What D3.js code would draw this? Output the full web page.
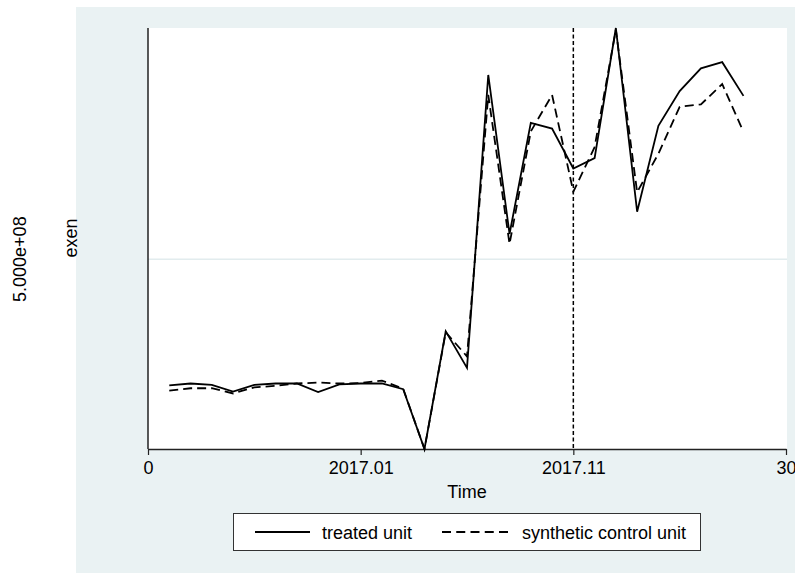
<!DOCTYPE html>
<html>
<head>
<meta charset="utf-8">
<script src="https://cdn.jsdelivr.net/npm/d3@7"></script>
<style>
  body { margin: 0; background: #fff; }
  svg { display: block; font-family: "Liberation Sans", Arial, sans-serif; }
</style>
</head>
<body>
<div id="chart"></div>
<script>
// values in units of 1e8
const time = [1, 2, 3, 4, 5, 6, 7, 8, 9, 10, 11, 12, 13, 14, 15, 16, 17, 18, 19, 20, 21, 22, 23, 24, 25, 26, 27, 28];
const treated = [2.34, 2.38, 2.35, 2.21, 2.35, 2.38, 2.38, 2.20, 2.36, 2.38, 2.38, 2.26, 1.00, 3.48, 2.71, 8.88, 5.53, 7.87, 7.75, 6.91, 7.13, 9.87, 6.00, 7.81, 8.54, 9.02, 9.15, 8.44];
const synthetic = [2.23, 2.28, 2.28, 2.17, 2.30, 2.33, 2.38, 2.40, 2.38, 2.39, 2.44, 2.27, 1.00, 3.46, 2.95, 8.46, 5.32, 7.69, 8.46, 6.42, 7.36, 9.83, 6.41, 7.22, 8.21, 8.26, 8.69, 7.68];
const xTicks = [0, 10, 20, 30];
const xTickLabels = ['0', '2017.01', '2017.11', '30'];
const yTicks = [5];
const yTickLabels = ['5.000e+08'];
const treatTime = 20;

const width = 795, height = 573;
const plot = { left: 148, right: 786, top: 28, bottom: 449 };

const svg = d3.select('#chart').append('svg')
  .attr('width', width)
  .attr('height', height);

svg.append('rect')
  .attr('x', 76).attr('y', 7)
  .attr('width', width - 76).attr('height', height - 7)
  .attr('fill', '#eaf2f3');

svg.append('rect')
  .attr('x', plot.left).attr('y', plot.top)
  .attr('width', plot.right - plot.left + 1).attr('height', plot.bottom - plot.top)
  .attr('fill', '#fff');

const x = d3.scaleLinear().domain([0, 30]).range([plot.left, plot.right]);
const allVals = treated.concat(synthetic);
const y = d3.scaleLinear().domain(d3.extent(allVals)).range([plot.bottom, plot.top]);

// grid line
svg.selectAll('.grid')
  .data(yTicks)
  .enter()
  .append('line')
  .attr('x1', plot.left).attr('x2', plot.right + 1)
  .attr('y1', d => y(d)).attr('y2', d => y(d))
  .attr('stroke', '#e2ecee')
  .attr('stroke-width', 1.5);

// y tick labels (far left)
svg.selectAll('.ylab')
  .data(yTicks)
  .enter()
  .append('text')
  .attr('transform', d => `translate(26, ${y(d)}) rotate(-90)`)
  .attr('text-anchor', 'middle')
  .style('font-size', '18px')
  .text((d, i) => yTickLabels[i]);

svg.append('text')
  .attr('transform', 'translate(77, 238) rotate(-90)')
  .attr('text-anchor', 'middle')
  .style('font-size', '18px')
  .text('exen');

// x axis
const xAxis = d3.axisBottom(x)
  .tickValues(xTicks)
  .tickFormat((d, i) => xTickLabels[i])
  .tickSize(6)
  .tickSizeOuter(0);

const gx = svg.append('g')
  .attr('transform', `translate(0, ${plot.bottom})`)
  .call(xAxis);
gx.select('.domain').attr('stroke', '#222').attr('stroke-width', 1.3);
gx.selectAll('.tick line').attr('stroke', '#222').attr('stroke-width', 1.2);
gx.selectAll('.tick text')
  .attr('fill', '#000')
  .attr('y', 12)
  .style('font-size', '18px')
  .style('font-family', '"Liberation Sans", Arial, sans-serif');

svg.append('text')
  .attr('x', (plot.left + plot.right) / 2)
  .attr('y', 498)
  .attr('text-anchor', 'middle')
  .style('font-size', '18px')
  .text('Time');

// y axis line
svg.append('line')
  .attr('x1', plot.left).attr('x2', plot.left)
  .attr('y1', plot.top).attr('y2', plot.bottom)
  .attr('stroke', '#222')
  .attr('stroke-width', 1.5);

// treatment line
svg.append('line')
  .attr('x1', x(treatTime)).attr('x2', x(treatTime))
  .attr('y1', plot.top).attr('y2', plot.bottom)
  .attr('stroke', '#000')
  .attr('stroke-width', 1.5)
  .attr('stroke-dasharray', '4,2.5');

const line = d3.line()
  .x((d, i) => x(time[i]))
  .y(d => y(d));

svg.append('path')
  .datum(synthetic)
  .attr('d', line)
  .attr('fill', 'none')
  .attr('stroke', '#000')
  .attr('stroke-width', 1.8)
  .attr('stroke-dasharray', '9,5');

svg.append('path')
  .datum(treated)
  .attr('d', line)
  .attr('fill', 'none')
  .attr('stroke', '#000')
  .attr('stroke-width', 1.8);

// legend
const legend = svg.append('g');
legend.append('rect')
  .attr('x', 233.5).attr('y', 513.5)
  .attr('width', 467).attr('height', 37)
  .attr('fill', '#fff')
  .attr('stroke', '#333')
  .attr('stroke-width', 1);

const items = [
  { name: 'treated unit', dash: null, x1: 255, x2: 310, tx: 322 },
  { name: 'synthetic control unit', dash: '9,5.25', x1: 442, x2: 512, tx: 522 }
];

items.forEach(it => {
  legend.append('line')
    .attr('x1', it.x1).attr('x2', it.x2)
    .attr('y1', 532).attr('y2', 532)
    .attr('stroke', '#000')
    .attr('stroke-width', 1.8)
    .attr('stroke-dasharray', it.dash);
  legend.append('text')
    .attr('x', it.tx).attr('y', 539)
    .style('font-size', '18px')
    .text(it.name);
});
</script>
</body>
</html>
